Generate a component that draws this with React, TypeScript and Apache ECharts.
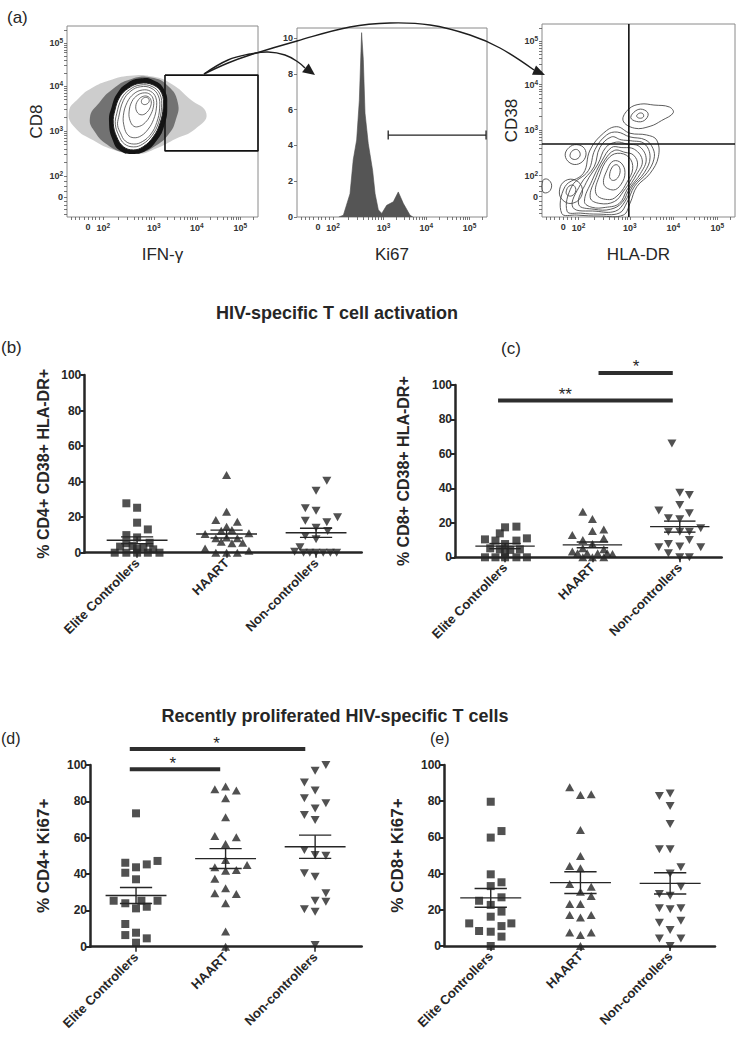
import React, { useEffect, useRef } from "react";
import * as echarts from "echarts";

const FONT = "'Liberation Sans', Arial, Helvetica, sans-serif";
const INK = "#262626";

// ---------- (a) flow cytometry ----------
const FLOW_TICK_LABELS = ["0", "10^2", "10^3", "10^4", "10^5"];
const FLOW_X_TICKS = [11, 19, 45.5, 68, 90.8];
const FLOW_Y_TICKS = [10.5, 21.5, 45, 68.6, 91];
const HIST_Y_TICKS = [0, 2, 4, 6, 8, 10];

// IFN-g vs CD8 plot (display scale 0-100)
const P1_SPARSE = [[1, 55], [6, 62], [13, 67.5], [22, 71.5], [33, 74], [45, 73.5], [55, 69.5], [64, 62], [73, 54], [67, 46], [57, 41], [47, 36], [37, 33], [25, 35], [14, 40], [4, 47]];
const P1_HALO = [[12, 52], [17, 60], [24, 67], [33, 72], [44, 73], [53, 68.5], [58, 60], [57, 51], [53, 43], [46, 37], [38, 33.5], [29, 34], [21, 38], [15, 44]];
const P1_BAND = [[22, 50], [23.5, 58], [26.5, 65], [31.5, 70], [38, 72.5], [45.5, 71.5], [51, 66.5], [52.5, 58], [51, 48], [47, 40], [41, 34.5], [34.5, 33], [28, 34.5], [24, 40]];
const P1_OUTER = [[25.1, 56], [27.7, 63], [32.1, 67.4], [38.2, 70], [45.2, 69.1], [49.6, 64.8], [50.4, 57.7], [48.7, 49.1], [45.2, 42], [39.9, 36.8], [34.7, 35.1], [29.5, 36.8], [26, 42], [24.2, 49.1]];
const P1_RINGS = [
  [[26, 54], [28.6, 62], [32.8, 66.7], [38.3, 69.1], [44.6, 68.3], [48.7, 64.2], [49.5, 57.4], [47.9, 49.3], [44.6, 42.8], [39.7, 38.2], [34.9, 36.7], [30, 38.3], [27, 43], [25.3, 48.6]],
  [[27, 52], [29.5, 61], [33.5, 66], [38.5, 68.2], [44, 67.5], [47.8, 63.5], [48.5, 57], [47, 49.5], [44, 43.5], [39.5, 39.5], [35, 38.2], [30.5, 39.8], [28, 44], [26.5, 48]],
  [[29.5, 53], [31.5, 60], [35, 64.5], [39.5, 66.5], [43.8, 65.8], [46.5, 62.5], [46.8, 57], [45.3, 51], [42.5, 46], [38.8, 42.5], [35, 41.5], [31.8, 43], [30, 47]],
  [[32.5, 55], [34, 60.5], [37, 63.8], [40.5, 65], [43.5, 64.2], [45.2, 61.5], [45.2, 57.5], [43.5, 53], [41, 49.5], [38, 47.5], [35, 47.5], [33, 50.5]],
  [[36, 58], [37.5, 61.5], [40, 63.2], [42.5, 63], [44, 61], [43.8, 58], [42, 55], [39.5, 53.5], [37, 54.5]],
  [[39, 61], [40.5, 62.5], [42.5, 62.2], [43, 60.5], [41.5, 59], [39.5, 59.2]],
];
const P1_GATE = [[51.3, 74.3], [100, 74.3], [100, 34.6], [51.3, 34.6], [51.3, 74.3]];

// Ki67 histogram
const HIST_X = [22, 24.4, 27.9, 29.6, 31.4, 32.8, 34.0, 34.9, 35.8, 37.5, 39.8, 41.1, 42.8, 44.6, 47.2, 50.7, 53.3, 56, 59.5, 61];
const HIST_Y = [0, 0.1, 1.3, 3.2, 4.3, 6.5, 10.3, 8.8, 5.8, 4.1, 2.6, 1.3, 0.4, 0.2, 0.65, 0.85, 1.4, 0.75, 0.1, 0];
const HIST_GATE = [[48, 99.5, 4.58]];

// HLA-DR vs CD38 plot
const P3_RINGS = [
  [[10.2, 1.9], [11.9, 15.7], [21.4, 22.6], [24.9, 34.7], [31.8, 43.4], [38.7, 46.8], [45.6, 43.4], [54.2, 42.5], [59.4, 39.9], [60.3, 31.2], [56, 22.6], [49.1, 15.7], [45.6, 7.1], [42.1, 1], [30.1, 0.5], [18, 1]],
  [[13, 3], [15.5, 16], [24, 24], [27.5, 35], [33.5, 42.5], [39, 44], [45.5, 41.5], [53.5, 40], [57.5, 35.5], [58, 30], [54.5, 23], [48, 16], [44, 7.5], [40, 2], [29, 1.5], [20, 2]],
  [[16, 5], [20, 17], [27, 26], [30, 36], [36, 41.5], [41, 40], [46, 39.5], [53, 38], [56, 31], [53, 23], [47, 16], [43, 8], [38, 3], [28, 3]],
  [[19, 6.5], [23, 18], [29, 27.5], [33, 36], [38.5, 38.8], [44, 37.8], [50.5, 36.5], [54, 30], [51, 22.5], [45.5, 15], [41.5, 7.5], [35.5, 4], [27, 4]],
  [[22, 8], [26, 19], [31, 29], [36, 36], [41, 36], [48, 35], [52, 29], [49, 22], [44, 14], [40, 7], [33, 5], [26, 5]],
  [[25, 10], [28, 20.5], [32.5, 29.5], [37.5, 34.5], [43, 33.5], [47.5, 32], [49.5, 27], [46.5, 20], [42, 13], [37.5, 8], [30, 7]],
  [[28, 12], [30, 22], [34, 30], [39, 33], [45, 31], [47, 25], [44, 18], [40, 12], [35, 9]],
  [[32, 17], [34, 25], [37, 29], [41, 28], [43, 23], [41, 17], [37, 14]],
  [[35, 21], [36.5, 26], [39, 27], [40.5, 24], [39, 20], [36.5, 19]],
  [[12, 32], [14, 36], [18, 37.5], [22, 35.5], [22.5, 31], [19, 27.5], [14.5, 28]],
  [[14.5, 32], [16, 34.5], [18.5, 34.8], [19.8, 32.2], [18, 30], [15.5, 30.2]],
  [[42, 50], [45, 56], [51, 58.5], [58, 58], [66, 57], [68, 54], [62, 50], [56, 47], [48, 46]],
  [[46, 51.5], [48.5, 55], [52, 55.8], [55, 53.5], [53, 50], [49, 49.5]],
  [[49, 52.3], [50.5, 53.8], [52.3, 53.5], [52.5, 51.8], [50.5, 51.2]],
  [[9, 13], [11, 18], [16, 19.5], [20.5, 16], [20, 10], [15, 7], [10.5, 9]],
  [[12.5, 13], [14, 16], [16.5, 16.3], [17.5, 13.5], [15.5, 11], [13.2, 11.3]],
  [[0.5, 13], [0.5, 19], [3, 19.5], [5, 16.5], [3.5, 13]],
];
const P3_QUAD_X = [[45, 0], [45, 100]];
const P3_QUAD_Y = [[0, 37.8], [100, 37.8]];

// ---------- (b)-(e) column scatter ----------
const GROUPS = ["Elite Controllers", "HAART", "Non-controllers"];

// [horizontal spread within column, value %]
const B_EC = [[-0.12, 27.8], [0, 25.3], [0, 16.9], [0.12, 13.1], [-0.12, 9.9], [0, 8.6], [0.14, 5.6], [-0.12, 5.3], [-0.19, 3.4], [-0.05, 3.8], [0.07, 3.0], [0, 2.4], [0.18, 1.9], [-0.25, 0], [-0.12, 0], [0, 0], [0.12, 0], [0.25, 0]];
const B_HA = [[0, 43.7], [0, 23.1], [-0.12, 18.4], [0.12, 17.4], [0, 14.6], [0.06, 12.8], [-0.06, 12.4], [-0.24, 10.5], [0.25, 10.9], [-0.12, 8.1], [0, 8.6], [0.12, 8.1], [-0.06, 6.2], [0.06, 5.3], [0.18, 5.6], [-0.24, 2.4], [-0.12, 0], [0, 0], [0.12, 0], [0.25, 1.1]];
const B_NC = [[0.12, 40.5], [0, 34.9], [-0.12, 25.0], [0, 23.6], [-0.12, 18.0], [0.12, 17.1], [0.24, 19.9], [0, 14.1], [0.13, 12.2], [-0.12, 9.4], [0, 7.5], [-0.18, 3.0], [-0.24, 0.6], [-0.14, 0], [-0.07, 0], [0, 0], [0.08, 0], [0.16, 0], [0.23, 0]];
const B_MEAN = [7.0, 10.5, 11.2];
const B_SEM = [1.9, 2.2, 2.6];

const C_EC = [[0, 17.4], [0.13, 17.8], [-0.06, 13.9], [-0.23, 10.4], [-0.11, 9.7], [0.13, 9.7], [0.25, 11.0], [0, 7.7], [-0.17, 5.2], [-0.06, 4.6], [0.06, 4.3], [0.17, 4.6], [0, 2.7], [-0.23, 0], [-0.11, 0], [0, 0], [0.13, 0], [0.25, 0]];
const C_HA = [[-0.11, 26.5], [0, 22.2], [0.13, 16.2], [0, 15.3], [0.13, 11.0], [-0.23, 13.0], [-0.11, 10.1], [0, 7.7], [-0.11, 5.2], [0.13, 4.6], [-0.23, 3.3], [-0.17, 2.3], [-0.06, 2.3], [0.06, 2.3], [0.17, 2.3], [-0.11, 0], [0, 0], [0.13, 0], [0.23, 1.9]];
const C_NC = [[-0.09, 66], [0, 37.5], [0.11, 36.2], [-0.24, 27.1], [0, 30.4], [0.11, 25.5], [-0.13, 22.6], [0, 22.1], [-0.13, 14.9], [0, 14.9], [0.11, 14.9], [0.24, 16.8], [-0.24, 5.8], [-0.13, 7.7], [0, 6.2], [0.11, 10.1], [0.24, 5.8], [-0.13, 2.3], [0, 0], [0.11, 0]];
const C_MEAN = [6.5, 7.2, 17.8];
const C_SEM = [1.5, 1.7, 3.2];
const C_SIG = [[0.92, 2.92, 91, 1.69], [2.07, 2.92, 107, 2.5]];
const C_SIG_LABELS = ["**", "*"];

const D_EC = [[0, 73.4], [-0.12, 46.2], [0, 43.7], [0.12, 45.3], [0.24, 47.2], [-0.12, 40.7], [0, 37.1], [-0.25, 25.3], [-0.12, 23.9], [0, 21.1], [0.06, 25.3], [0.12, 22.0], [0.24, 25.3], [-0.12, 12.5], [-0.12, 6.4], [0, 7.7], [0.12, 4.6], [0, 2.2]];
const D_HA = [[-0.12, 86.6], [0, 88.1], [0.12, 85.9], [0, 81.7], [0, 71.2], [-0.12, 60.9], [0.12, 60.2], [0, 56.5], [0, 47.7], [-0.12, 43.7], [0, 41.8], [0.12, 42.2], [0.24, 45.0], [-0.12, 37.4], [-0.12, 29.4], [0, 32.1], [0.12, 29.0], [0, 23.9], [0, 8.3], [0, 0]];
const D_NC = [[0.12, 100], [0, 96.9], [-0.12, 90.3], [0, 85.9], [-0.12, 81.7], [0.12, 78.9], [0, 76.1], [-0.12, 72.5], [0, 69.7], [-0.12, 53.2], [0, 50.5], [0.12, 50.1], [-0.12, 40.4], [0, 38.5], [0.12, 29.4], [0.12, 24.8], [0, 25.3], [-0.12, 20.6], [0, 19.3], [0, 0.9]];
const D_MEAN = [28.2, 48.5, 55.0];
const D_SEM = [4.4, 5.5, 6.4];
const D_SIG = [[0.93, 2.89, 108.8, 1.9], [0.93, 1.94, 97.6, 1.41]];
const D_SIG_LABELS = ["*", "*"];

const E_EC = [[0, 79.7], [0.12, 63.5], [0, 59.9], [0, 39.6], [0.12, 35.2], [0, 33.1], [0.12, 26.9], [-0.13, 25.0], [0, 22.7], [0.12, 19.0], [0, 16.2], [-0.24, 12.5], [-0.13, 8.3], [0, 7.9], [0.12, 11.0], [0.23, 12.5], [0.12, 5.2], [0, 0]];
const E_HA = [[-0.12, 87.7], [0, 83.4], [0.12, 83.8], [0, 64.1], [0, 49.7], [-0.12, 44.2], [0, 42.9], [-0.12, 34.3], [0.12, 32.8], [0, 30.0], [0.12, 27.6], [-0.12, 23.2], [0, 23.2], [-0.12, 17.1], [0, 15.8], [0.12, 17.1], [-0.12, 7.4], [0, 6.1], [0.12, 7.4], [0, 0]];
const E_NC = [[-0.12, 82.9], [0, 84.3], [0, 77.3], [0, 67.4], [-0.12, 53.4], [0, 53.4], [0.12, 43.5], [0, 40.1], [0.12, 32.8], [-0.12, 28.7], [0, 27.8], [-0.12, 20.8], [0, 20.3], [0.12, 20.8], [-0.12, 12.9], [0.12, 14.0], [0, 8.8], [-0.12, 4.2], [0.12, 4.2], [0, 0]];
const E_MEAN = [26.6, 35.0, 34.6];
const E_SEM = [5.2, 6.0, 5.9];

// ---------- helpers ----------
const flowMinor = (p: number[]) => {
  const out: number[] = [];
  for (let j = 1; j <= 4; j++) out.push(p[0] - j * 2.2);
  for (let j = 0; j < 4; j++) out.push(p[0] + ((p[1] - p[0]) * j) / 4);
  for (let k = 1; k < 4; k++) for (let m = 1; m < 10; m++) out.push(p[k] + Math.log10(m) * (p[k + 1] - p[k]));
  for (let m = 1; m < 10; m++) out.push(p[4] + Math.log10(m) * (p[4] - p[3]));
  return out.filter((v) => v >= 0 && v <= 100);
};

const flowFmt = (ticks: number[]) => (v: number) => {
  let i = ticks.indexOf(v);
  if (i < 0) {
    let best = 1e9;
    ticks.forEach((t, k) => { if (Math.abs(t - v) < best) { best = Math.abs(t - v); i = k; } });
  }
  const lab = FLOW_TICK_LABELS[i] || "";
  if (lab.indexOf("^") < 0) return `{b|${lab}}`;
  const [base, e] = lab.split("^");
  return `{b|${base}}{s|${e}}`;
};

const FLOW_RICH = {
  b: { fontFamily: FONT, fontSize: 9, fontWeight: "bold", color: "#333" },
  s: { fontFamily: FONT, fontSize: 6.5, fontWeight: "bold", color: "#333", padding: [0, 0, 5, 0] },
};

const flowNameStyle = { fontFamily: FONT, fontSize: 17, color: INK };

const flowX = (gi: number, name: string) => ({
  type: "value", gridIndex: gi, min: 0, max: 100,
  axisLine: { show: false }, splitLine: { show: false },
  axisTick: { show: true, customValues: flowMinor(FLOW_X_TICKS), length: 3, lineStyle: { color: "#555", width: 0.8 } },
  axisLabel: { show: true, customValues: FLOW_X_TICKS, formatter: flowFmt(FLOW_X_TICKS), rich: FLOW_RICH, margin: 5 },
  name, nameLocation: "middle", nameGap: 29, nameTextStyle: flowNameStyle,
});

const flowY = (gi: number, name: string) => ({
  type: "value", gridIndex: gi, min: 0, max: 100,
  axisLine: { show: false }, splitLine: { show: false },
  axisTick: { show: true, customValues: flowMinor(FLOW_Y_TICKS), length: 3, lineStyle: { color: "#555", width: 0.8 } },
  axisLabel: { show: true, customValues: FLOW_Y_TICKS, formatter: flowFmt(FLOW_Y_TICKS), rich: FLOW_RICH, margin: 4 },
  name, nameLocation: "middle", nameGap: 20, nameTextStyle: flowNameStyle,
});

const ringSeries = (ax: number, rings: number[][][], style: any, z: number, smooth = 0.4) => ({
  type: "custom", xAxisIndex: ax, yAxisIndex: ax, silent: true, z,
  data: rings.map((r) => r[0]),
  renderItem: (params: any, api: any) => ({
    type: "polygon",
    shape: { points: rings[params.dataIndex].map((p) => api.coord(p)), smooth },
    style: { ...style },
  }),
});

const lineSeries = (ax: number, data: number[][], width: number, z = 6) => ({
  type: "line", xAxisIndex: ax, yAxisIndex: ax, data, symbol: "none", silent: true, z,
  lineStyle: { color: "#111", width }, clip: false,
});

type PanelSpec = {
  grid: { left: number; top: number; width: number; height: number };
  xmin: number; xmax: number;
  name: string; nameGap: number; nameSize: number;
  groups: number[][][]; mean: number[]; sem: number[];
  sig?: number[][]; sigLabels?: string[];
};

const PANELS: PanelSpec[] = [
  { grid: { left: 84.3, top: 375, width: 277.4, height: 177.7 }, xmin: 0.41, xmax: 3.51, name: "% CD4+ CD38+ HLA-DR+", nameGap: 33, nameSize: 16, groups: [B_EC, B_HA, B_NC], mean: B_MEAN, sem: B_SEM },
  { grid: { left: 455, top: 385, width: 266.7, height: 172.3 }, xmin: 0.427, xmax: 3.48, name: "% CD8+ CD38+ HLA-DR+", nameGap: 44, nameSize: 16, groups: [C_EC, C_HA, C_NC], mean: C_MEAN, sem: C_SEM, sig: C_SIG, sigLabels: C_SIG_LABELS },
  { grid: { left: 90, top: 765, width: 271.7, height: 181.7 }, xmin: 0.486, xmax: 3.52, name: "% CD4+ Ki67+", nameGap: 38, nameSize: 17, groups: [D_EC, D_HA, D_NC], mean: D_MEAN, sem: D_SEM, sig: D_SIG, sigLabels: D_SIG_LABELS },
  { grid: { left: 444, top: 765, width: 271, height: 181 }, xmin: 0.479, xmax: 3.5, name: "% CD8+ Ki67+", nameGap: 38, nameSize: 17, groups: [E_EC, E_HA, E_NC], mean: E_MEAN, sem: E_SEM },
];

const SYMBOLS = [
  { symbol: "rect", size: [8, 8], rotate: 0 },
  { symbol: "triangle", size: [9, 8], rotate: 0 },
  { symbol: "triangle", size: [9, 8], rotate: 180 },
];

function buildOption() {
  const grids: any[] = [
    { left: 67, top: 26, width: 191, height: 191 },
    { left: 297, top: 28, width: 190, height: 189 },
    { left: 542, top: 24, width: 193, height: 193 },
  ].map((g) => ({ ...g, show: true, borderColor: "#8a8a8a", borderWidth: 1, backgroundColor: "transparent", containLabel: false, outerBoundsMode: "none" }));

  const xAxes: any[] = [flowX(0, "IFN-\u03b3"), flowX(1, "Ki67"), flowX(2, "HLA-DR")];
  const yAxes: any[] = [
    flowY(0, "CD8"),
    {
      type: "value", gridIndex: 1, min: 0, max: 10.56,
      axisLine: { show: false }, splitLine: { show: false },
      axisTick: { show: true, customValues: HIST_Y_TICKS, length: 3, lineStyle: { color: "#555", width: 0.8 } },
      axisLabel: { show: true, customValues: HIST_Y_TICKS, fontFamily: FONT, fontSize: 9, fontWeight: "bold", color: "#333", margin: 4 },
    },
    flowY(2, "CD38"),
  ];

  const series: any[] = [
    // plot 1
    ringSeries(0, [P1_SPARSE], { fill: "rgba(90,90,90,0.3)", stroke: "none" }, 1, 0.5),
    ringSeries(0, [P1_HALO], { fill: "rgba(40,40,40,0.55)", stroke: "none" }, 2, 0.5),
    ringSeries(0, [P1_BAND], { fill: "#141414", stroke: "none" }, 3, 0.5),
    ringSeries(0, [P1_OUTER], { fill: "#fff", stroke: "#222", lineWidth: 1 }, 4),
    ringSeries(0, P1_RINGS, { fill: "none", stroke: "#444", lineWidth: 0.8 }, 5),
    lineSeries(0, P1_GATE, 1.6),
    // histogram
    {
      type: "line", xAxisIndex: 1, yAxisIndex: 1, symbol: "none", silent: true, z: 3,
      data: HIST_X.map((x, i) => [x, HIST_Y[i]]),
      lineStyle: { color: "#4d4d4d", width: 0.6 }, areaStyle: { color: "#555", opacity: 1 },
    },
    {
      type: "custom", xAxisIndex: 1, yAxisIndex: 1, silent: true, z: 6,
      data: HIST_GATE,
      renderItem: (params: any, api: any) => {
        const a = api.coord([api.value(0), api.value(2)]);
        const b = api.coord([api.value(1), api.value(2)]);
        const st = { stroke: "#222", lineWidth: 1.3 };
        return {
          type: "group",
          children: [
            { type: "line", shape: { x1: a[0], y1: a[1], x2: b[0], y2: b[1] }, style: st },
            { type: "line", shape: { x1: a[0], y1: a[1] - 4.5, x2: a[0], y2: a[1] + 4.5 }, style: st },
            { type: "line", shape: { x1: b[0], y1: b[1] - 4.5, x2: b[0], y2: b[1] + 4.5 }, style: st },
          ],
        };
      },
    },
    // plot 3
    ringSeries(2, P3_RINGS, { fill: "none", stroke: "#4a4a4a", lineWidth: 0.9 }, 4),
    lineSeries(2, P3_QUAD_X, 1.6),
    lineSeries(2, P3_QUAD_Y, 1.6),
  ];

  PANELS.forEach((p, k) => {
    const gi = 3 + k;
    grids.push({ ...p.grid, show: false, containLabel: false, outerBoundsMode: "none" });
    xAxes.push({
      type: "value", gridIndex: gi, min: p.xmin, max: p.xmax,
      axisLine: { show: true, onZero: false, lineStyle: { color: INK, width: 2.5 } },
      axisTick: { show: true, customValues: [1, 2, 3], length: 5, lineStyle: { color: INK, width: 1.5 } },
      axisLabel: {
        show: true, customValues: [1, 2, 3], rotate: 45, margin: 8,
        formatter: (v: number) => GROUPS[Math.round(v) - 1] || "",
        fontFamily: FONT, fontSize: 13, fontWeight: "bold", color: INK,
      },
      splitLine: { show: false },
    });
    yAxes.push({
      type: "value", gridIndex: gi, min: 0, max: 100, interval: 20,
      axisLine: { show: true, onZero: false, lineStyle: { color: INK, width: 2.5 } },
      axisTick: { show: true, length: 4, lineStyle: { color: INK, width: 2 } },
      axisLabel: { fontFamily: FONT, fontSize: 12, fontWeight: "bold", color: INK, margin: 3 },
      splitLine: { show: false },
      name: p.name, nameLocation: "middle", nameGap: p.nameGap,
      nameTextStyle: { fontFamily: FONT, fontSize: p.nameSize, fontWeight: "bold", color: INK },
    });
    p.groups.forEach((pts, g) => {
      const s = SYMBOLS[g];
      series.push({
        type: "scatter", name: `${GROUPS[g]}-${k}`, xAxisIndex: gi, yAxisIndex: gi,
        symbol: s.symbol, symbolSize: s.size, symbolRotate: s.rotate, clip: false, z: 3,
        itemStyle: { color: INK },
        data: pts.map(([o, v]) => [g + 1 + o, v]),
      });
    });
    series.push({
      type: "custom", xAxisIndex: gi, yAxisIndex: gi, silent: true, z: 4,
      data: p.mean.map((m, g) => [g + 1, m, p.sem[g]]),
      encode: { x: 0, y: 1 },
      renderItem: (params: any, api: any) => {
        const x = api.value(0), m = api.value(1), s = api.value(2);
        const seg = (x1: number, y1: number, x2: number, y2: number) => {
          const a = api.coord([x1, y1]), b = api.coord([x2, y2]);
          return { type: "line", shape: { x1: a[0], y1: a[1], x2: b[0], y2: b[1] }, style: { stroke: INK, lineWidth: 1.4 } };
        };
        return {
          type: "group",
          children: [seg(x - 0.34, m, x + 0.34, m), seg(x - 0.18, m + s, x + 0.18, m + s), seg(x - 0.18, m - s, x + 0.18, m - s), seg(x, m - s, x, m + s)],
        };
      },
    });
    if (p.sig) {
      const labels = p.sigLabels || [];
      series.push({
        type: "custom", xAxisIndex: gi, yAxisIndex: gi, silent: true, z: 5,
        data: p.sig,
        encode: { x: 0, y: 2 },
        renderItem: (params: any, api: any) => {
          const a = api.coord([api.value(0), api.value(2)]);
          const b = api.coord([api.value(1), api.value(2)]);
          const l = api.coord([api.value(3), api.value(2)]);
          return {
            type: "group",
            children: [
              { type: "rect", shape: { x: a[0], y: a[1] - 2, width: b[0] - a[0], height: 4 }, style: { fill: "#2e2e2e" } },
              { type: "text", x: l[0], y: a[1] - 6, style: { text: labels[params.dataIndex], fontFamily: FONT, fontSize: 17, fill: INK, textAlign: "center", textVerticalAlign: "middle" } },
            ],
          };
        },
      });
    }
  });

  const txt = (x: number, y: number, text: string, size: number, weight = "normal", align = "left") => ({
    type: "text", x, y, silent: true,
    style: { text, fontFamily: FONT, fontSize: size, fontWeight: weight, fill: INK, textAlign: align, textVerticalAlign: "middle" },
  });

  const arrowStroke = { stroke: "#1e1e1e", lineWidth: 1.4, fill: "none" };
  const graphic = [
    txt(7, 17, "(a)", 17),
    txt(1, 347, "(b)", 17),
    txt(501, 348, "(c)", 17),
    txt(1, 738, "(d)", 16),
    txt(430, 738, "(e)", 16),
    txt(337, 313, "HIV-specific T cell activation", 18, "bold", "center"),
    txt(335, 716, "Recently proliferated HIV-specific T cells", 18, "bold", "center"),
    { type: "polyline", silent: true, z: 10, shape: { points: [[204, 74], [228, 60], [250, 54], [268, 52], [285, 55], [298, 62], [305, 68]], smooth: 0.4 }, style: arrowStroke },
    { type: "polyline", silent: true, z: 10, shape: { points: [[204, 74], [228, 63], [250, 55], [297, 41], [350, 27], [390, 23], [430, 25], [470, 35], [500, 48], [534, 70]], smooth: 0.4 }, style: arrowStroke },
    { type: "polygon", silent: true, z: 10, shape: { points: [[315, 75], [308.7, 63.4], [302.1, 72.2]] }, style: { fill: "#1e1e1e" } },
    { type: "polygon", silent: true, z: 10, shape: { points: [[545, 75], [536, 65.5], [532, 74.7]] }, style: { fill: "#1e1e1e" } },
  ];

  return {
    animation: false,
    backgroundColor: "#ffffff",
    textStyle: { fontFamily: FONT },
    grid: grids,
    xAxis: xAxes,
    yAxis: yAxes,
    series,
    graphic,
  };
}

export default function App() {
  const ref = useRef<HTMLDivElement>(null);
  useEffect(() => {
    if (!ref.current) return;
    const chart = echarts.init(ref.current, null, { renderer: "svg" });
    chart.setOption(buildOption() as any);
    return () => chart.dispose();
  }, []);
  return <div ref={ref} style={{ position: "absolute", left: 0, top: 0, width: 743, height: 1050, background: "#fff" }} />;
}
